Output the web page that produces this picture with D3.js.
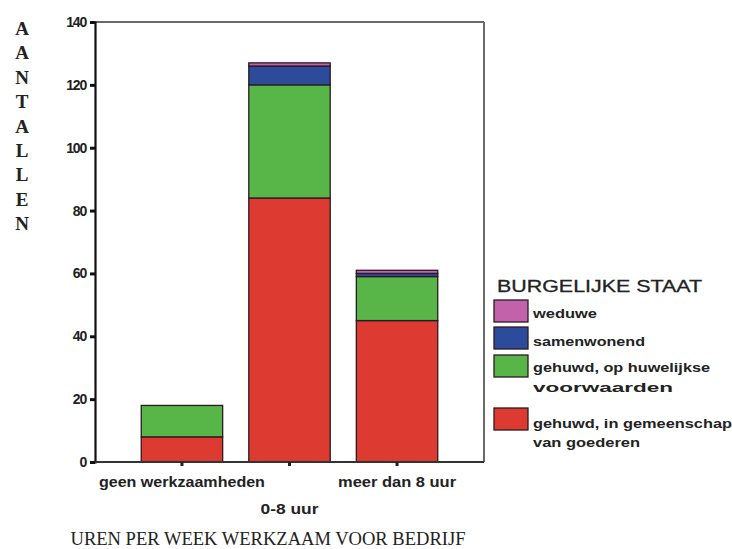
<!DOCTYPE html>
<html><head><meta charset="utf-8">
<script src="https://cdn.jsdelivr.net/npm/d3@7"></script>
<style>body{margin:0;background:#fff;} svg{display:block;}</style>
</head><body>
<script>
const categories = ["geen werkzaamheden", "0-8 uur", "meer dan 8 uur"];
const gemeenschap = [8, 84, 45];      // gehuwd, in gemeenschap van goederen
const voorwaarden = [10, 36, 14];     // gehuwd, op huwelijkse voorwaarden
const samenwonend = [0, 6, 1];
const weduwe = [0, 1, 1];
const yTicks = [0, 20, 40, 60, 80, 100, 120, 140];
const seriesNames = ["gemeenschap", "voorwaarden", "samenwonend", "weduwe"];
const seriesColors = ["#dd3a31", "#58b649", "#2c4b9b", "#c262ab"];
const legendItems = [
  {lines: ["weduwe"], key: "weduwe"},
  {lines: ["samenwonend"], key: "samenwonend"},
  {lines: ["gehuwd, op huwelijkse", "voorwaarden"], key: "voorwaarden"},
  {lines: ["gehuwd, in gemeenschap", "van goederen"], key: "gemeenschap"}
];
const legendTitle = "BURGELIJKE STAAT";
const yTitle = "AANTALLEN";
const xTitle = "UREN PER WEEK WERKZAAM VOOR BEDRIJF";

const W = 732, H = 549;
const svg = d3.select("body").append("svg").attr("width", W).attr("height", H);

const plot = {x0: 95, x1: 484, y0: 22, y1: 462};
const rows = categories.map((c, i) => ({cat: c, gemeenschap: gemeenschap[i], voorwaarden: voorwaarden[i], samenwonend: samenwonend[i], weduwe: weduwe[i]}));
const stack = d3.stack().keys(seriesNames)(rows);
const color = d3.scaleOrdinal().domain(seriesNames).range(seriesColors);

const x = d3.scaleBand().domain(categories).range([plot.x0, plot.x1]).paddingInner(0.243).paddingOuter(0.43);
const y = d3.scaleLinear().domain([0, 140]).range([plot.y1, plot.y0]);

// frame top/right
svg.append("line").attr("x1", plot.x0).attr("x2", plot.x1).attr("y1", plot.y0).attr("y2", plot.y0).attr("stroke", "#6a6a6a").attr("stroke-width", 2);
svg.append("line").attr("x1", plot.x1).attr("x2", plot.x1).attr("y1", plot.y0).attr("y2", plot.y1).attr("stroke", "#6a6a6a").attr("stroke-width", 2);

// bars
const g = svg.append("g");
stack.forEach(s => {
  g.selectAll(null).data(s.filter(d => d[1] - d[0] > 0)).enter().append("rect")
    .attr("x", d => x(d.data.cat))
    .attr("width", x.bandwidth())
    .attr("y", d => y(d[1]))
    .attr("height", d => y(d[0]) - y(d[1]))
    .attr("fill", color(s.key))
    .attr("stroke", "#2a1a22").attr("stroke-width", 1.3);
});

// y axis
const yAxis = svg.append("g").attr("transform", `translate(${plot.x0},0)`)
  .call(d3.axisLeft(y).tickValues(yTicks).tickSize(5).tickPadding(4));
yAxis.select(".domain").attr("stroke", "#111").attr("stroke-width", 2.2);
yAxis.selectAll(".tick line").attr("stroke", "#111").attr("stroke-width", 3);
yAxis.selectAll("text").attr("font-family", "Liberation Sans, Arial, sans-serif").attr("font-size", 14).attr("font-weight", "bold").attr("fill", "#222").attr("letter-spacing", -1.2);

// x axis
const xAxis = svg.append("g").attr("transform", `translate(0,${plot.y1})`)
  .call(d3.axisBottom(x).tickSize(4).tickFormat(""));
xAxis.select(".domain").attr("stroke", "#333").attr("stroke-width", 2.2).attr("d", `M${plot.x0},0H${plot.x1}`);
xAxis.selectAll(".tick line").attr("stroke", "#222").attr("stroke-width", 3);

const xLabelDy = [25, 52, 25];
const xLabelW = [166, 58, 118];
categories.forEach((c, i) => {
  svg.append("text").attr("x", x(c) + x.bandwidth() / 2).attr("y", plot.y1 + xLabelDy[i])
    .attr("text-anchor", "middle").attr("font-family", "Liberation Sans, Arial, sans-serif")
    .attr("font-size", 14).attr("font-weight", "bold").attr("fill", "#222")
    .attr("textLength", xLabelW[i]).attr("lengthAdjust", "spacingAndGlyphs").text(c);
});

// x title
svg.append("text").attr("x", 268).attr("y", 545).attr("text-anchor", "middle")
  .attr("font-family", "Liberation Serif, Times New Roman, serif").attr("font-size", 18)
  .attr("fill", "#222").attr("textLength", 395).attr("lengthAdjust", "spacingAndGlyphs").text(xTitle);

// y title as stacked letters
yTitle.split("").forEach((ch, i) => {
  svg.append("text").attr("x", 22).attr("y", 35 + i * 24.4).attr("text-anchor", "middle")
    .attr("font-family", "Liberation Serif, Times New Roman, serif").attr("font-size", 19).attr("font-weight", "bold")
    .attr("fill", "#222").text(ch);
});

// legend
svg.append("text").attr("x", 497).attr("y", 292).attr("font-family", "Liberation Sans, Arial, sans-serif")
  .attr("font-size", 17).attr("fill", "#222").attr("stroke", "#222").attr("stroke-width", 0.3)
  .attr("textLength", 205).attr("lengthAdjust", "spacingAndGlyphs").text(legendTitle);
const swY = [300, 327, 355, 408];
const txY = [[318], [346], [372, 392], [428, 447]];
const txW = [[64], [112], [177, 140], [199, 107]];
legendItems.forEach((it, i) => {
  svg.append("rect").attr("x", 494).attr("y", swY[i]).attr("width", 34).attr("height", 22)
    .attr("fill", color(it.key)).attr("stroke", "#2a1a22").attr("stroke-width", 1.3);
  it.lines.forEach((ln, j) => {
    svg.append("text").attr("x", 533).attr("y", txY[i][j]).attr("font-family", "Liberation Sans, Arial, sans-serif")
      .attr("font-size", 13).attr("font-weight", "bold").attr("fill", "#222")
      .attr("textLength", txW[i][j]).attr("lengthAdjust", "spacingAndGlyphs").text(ln);
  });
});
</script>
</body></html>
